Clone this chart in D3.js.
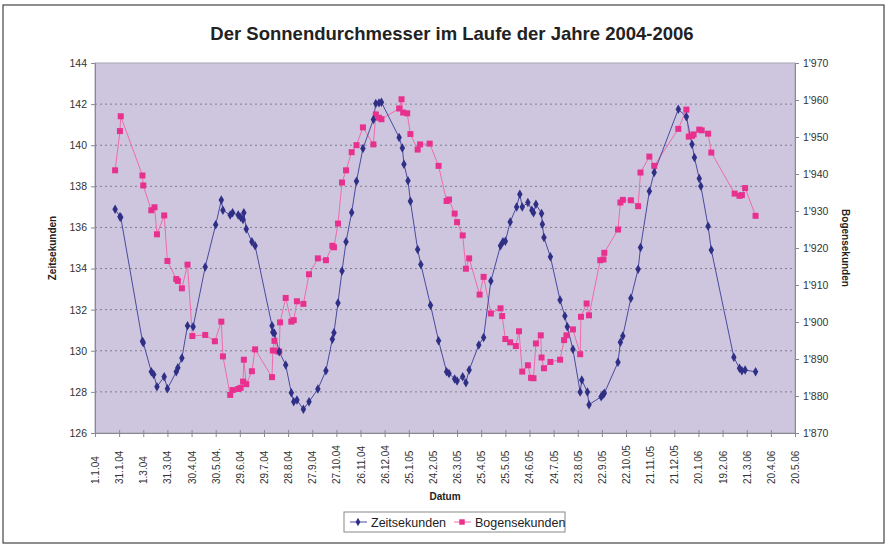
<!DOCTYPE html>
<html>
<head>
<meta charset="utf-8">
<script src="https://cdn.jsdelivr.net/npm/d3@7"></script>
<style>
  body { margin: 0; background: #fff; }
  svg { font-family: "Liberation Sans", Arial, sans-serif; }
</style>
</head>
<body>
<div id="plot"></div>
<script>
// Zeitsekunden (left axis), observation dates and values
const zeitDates = [
  "2004-01-26","2004-02-01","2004-02-02","2004-02-29","2004-03-01","2004-03-11","2004-03-14","2004-03-18","2004-03-27","2004-03-31",
  "2004-04-11","2004-04-13","2004-04-18","2004-04-25","2004-05-02","2004-05-17","2004-05-30","2004-06-06","2004-06-08","2004-06-17",
  "2004-06-20","2004-06-27","2004-06-30","2004-07-03","2004-07-04","2004-07-07","2004-07-14","2004-07-18","2004-08-08","2004-08-09",
  "2004-08-11","2004-08-17","2004-08-25","2004-09-01","2004-09-04","2004-09-08","2004-09-16","2004-09-23","2004-10-04","2004-10-14",
  "2004-10-22","2004-10-24","2004-10-29","2004-11-03","2004-11-08","2004-11-15","2004-11-21","2004-11-29","2004-12-12","2004-12-15",
  "2004-12-19","2004-12-22","2005-01-13","2005-01-17","2005-01-19","2005-01-24","2005-01-27","2005-02-05","2005-02-09","2005-02-21",
  "2005-03-03","2005-03-13","2005-03-16","2005-03-23","2005-03-26","2005-04-02","2005-04-06","2005-04-10","2005-04-22","2005-04-28",
  "2005-05-07","2005-05-19","2005-05-22","2005-05-25","2005-05-31","2005-06-08","2005-06-12","2005-06-15","2005-06-22","2005-06-27",
  "2005-06-29","2005-07-02","2005-07-09","2005-07-10","2005-07-12","2005-07-20","2005-08-01","2005-08-07","2005-08-10","2005-08-17",
  "2005-08-26","2005-08-28","2005-09-04","2005-09-06","2005-09-21","2005-09-23","2005-09-25","2005-10-12","2005-10-15","2005-10-18",
  "2005-10-28","2005-11-06","2005-11-09","2005-11-20","2005-11-26","2005-12-26","2006-01-05","2006-01-12","2006-01-15","2006-01-21",
  "2006-01-23","2006-02-01","2006-02-05","2006-03-05","2006-03-12","2006-03-15","2006-03-19","2006-04-01"
];
const zeitValues = [
  136.89,136.52,136.50,130.46,130.39,128.98,128.85,128.25,128.74,128.15,
  128.98,129.17,129.65,131.22,131.17,134.08,136.13,137.33,136.84,136.60,
  136.71,136.60,136.49,136.39,136.71,135.92,135.30,135.11,131.22,130.90,
  130.85,129.95,129.31,127.96,127.52,127.60,127.15,127.52,128.14,129.03,
  130.56,130.88,132.33,133.88,135.30,136.73,138.25,139.84,141.25,142.03,
  142.06,142.09,140.38,139.87,139.08,138.27,137.28,134.93,134.20,132.22,
  130.49,128.98,128.90,128.63,128.53,128.74,128.45,129.06,130.28,130.65,
  133.39,135.11,135.30,135.33,136.27,137.00,137.62,136.99,137.21,136.84,
  136.72,137.13,136.68,136.15,135.51,134.57,132.47,131.69,131.17,130.07,
  127.99,128.58,127.99,127.38,127.76,127.85,127.93,129.44,130.41,130.72,
  132.55,133.97,135.02,137.76,138.67,141.75,141.38,140.05,139.40,138.38,
  138.01,136.06,134.90,129.68,129.15,129.03,129.06,128.98
];

// Bogensekunden (right axis)
const bogenDates = [
  "2004-01-26","2004-02-01","2004-02-02","2004-02-29","2004-03-01","2004-03-11","2004-03-15","2004-03-18","2004-03-27","2004-03-31",
  "2004-04-11","2004-04-13","2004-04-18","2004-04-25","2004-05-01","2004-05-17","2004-05-29","2004-06-06","2004-06-08","2004-06-17",
  "2004-06-20","2004-06-27","2004-06-30","2004-07-03","2004-07-04","2004-07-07","2004-07-14","2004-07-18","2004-08-08","2004-08-09",
  "2004-08-11","2004-08-15","2004-08-17","2004-08-18","2004-08-25","2004-09-01","2004-09-04","2004-09-08","2004-09-16","2004-09-23",
  "2004-10-04","2004-10-14","2004-10-22","2004-10-24","2004-10-29","2004-11-03","2004-11-08","2004-11-15","2004-11-21","2004-11-29",
  "2004-12-12","2004-12-15","2004-12-19","2004-12-22","2005-01-13","2005-01-16","2005-01-18","2005-01-23","2005-01-27","2005-02-05",
  "2005-02-08","2005-02-20","2005-03-03","2005-03-13","2005-03-16","2005-03-23","2005-03-26","2005-04-02","2005-04-06","2005-04-10",
  "2005-04-23","2005-04-28","2005-05-07","2005-05-19","2005-05-21","2005-05-25","2005-05-31","2005-06-07","2005-06-11","2005-06-15",
  "2005-06-22","2005-06-26","2005-06-29","2005-07-02","2005-07-08","2005-07-09","2005-07-12","2005-07-20","2005-08-01","2005-08-06",
  "2005-08-09","2005-08-17","2005-08-26","2005-08-27","2005-09-03","2005-09-06","2005-09-20","2005-09-24","2005-09-25","2005-10-12",
  "2005-10-15","2005-10-18","2005-10-28","2005-11-06","2005-11-09","2005-11-20","2005-11-26","2005-12-26","2006-01-05","2006-01-08",
  "2006-01-12","2006-01-14","2006-01-21","2006-01-24","2006-02-01","2006-02-05","2006-03-06","2006-03-12","2006-03-15","2006-03-19",
  "2006-04-01"
];
const bogenValues = [
  1941.0,1951.6,1955.6,1939.6,1936.9,1930.2,1931.0,1923.7,1928.8,1916.5,
  1911.6,1911.1,1909.1,1915.5,1896.2,1896.5,1894.8,1900.1,1890.7,1880.3,
  1881.6,1881.9,1882.2,1883.9,1889.8,1883.2,1886.7,1892.6,1885.1,1892.3,
  1894.9,1892.1,1892.0,1899.9,1906.5,1900.1,1900.5,1905.6,1904.9,1912.9,
  1917.2,1916.7,1920.6,1920.2,1926.6,1937.7,1941.0,1945.9,1947.8,1952.6,
  1948.0,1956.1,1955.2,1954.8,1957.7,1960.2,1956.6,1956.4,1950.8,1946.6,
  1948.0,1948.2,1942.2,1932.7,1933.1,1929.3,1927.0,1923.4,1914.4,1917.2,
  1907.4,1912.2,1902.3,1903.7,1901.6,1895.4,1894.5,1893.5,1897.5,1886.6,
  1888.3,1884.9,1884.8,1894.2,1896.4,1890.4,1887.5,1889.2,1889.8,1895.1,
  1896.4,1898.0,1891.3,1901.4,1905.0,1901.8,1916.7,1916.9,1918.7,1925.0,
  1932.3,1933.0,1932.9,1931.3,1940.4,1944.7,1942.2,1952.2,1957.4,1950.1,
  1950.3,1950.7,1952.0,1951.8,1950.9,1945.8,1934.7,1934.1,1934.3,1936.2,
  1928.7
];

const xTickLabels = ["1.1.04","31.1.04","1.3.04","31.3.04","30.4.04","30.5.04.","29.6.04","29.7.04","28.8.04","27.9.04",
  "27.10.04","26.11.04","26.12.04","25.1.05","24.2.05","26.3.05","25.4.05","25.5.05","24.6.05","24.7.05",
  "23.8.05","22.9.05","22.10.05","21.11.05","21.12.05","20.1.06","19.2.06","21.3.06","20.4.06","20.5.06"];
const leftTicks = [126,128,130,132,134,136,138,140,142,144];
const rightTicks = [1870,1880,1890,1900,1910,1920,1930,1940,1950,1960,1970];

const width = 888, height = 544;
const plot = { left: 95, right: 795, top: 63, bottom: 433 };

const parse = d3.utcParse("%Y-%m-%d");
const start = parse("2004-01-01");
const xTickDates = xTickLabels.map((_, i) => d3.utcDay.offset(start, i * 30));

const svg = d3.select("#plot").append("svg")
  .attr("width", width).attr("height", height);

// outer frame
svg.append("rect").attr("x", 3).attr("y", 5).attr("width", 881).attr("height", 538)
  .attr("fill", "#fff").attr("stroke", "#444").attr("stroke-width", 1.2);

const x = d3.scaleUtc()
  .domain([start, xTickDates[xTickDates.length - 1]])
  .range([plot.left, plot.right]);
const yL = d3.scaleLinear().domain([126, 144]).range([plot.bottom, plot.top]);
const yR = d3.scaleLinear().domain([1870, 1970]).range([plot.bottom, plot.top]);

const swiss = d3.formatLocale({ decimal: ".", thousands: "'", grouping: [3], currency: ["", ""] });
const fmtR = swiss.format(",");

// plot background
svg.append("rect")
  .attr("x", plot.left).attr("y", plot.top)
  .attr("width", plot.right - plot.left).attr("height", plot.bottom - plot.top)
  .attr("fill", "#cdc6de").attr("stroke", "#a8a4b4");

// gridlines
svg.append("g").selectAll("line")
  .data(leftTicks.slice(1, -1))
  .join("line")
  .attr("x1", plot.left).attr("x2", plot.right)
  .attr("y1", d => yL(d)).attr("y2", d => yL(d))
  .attr("stroke", "#6e6a7a").attr("stroke-width", 0.8)
  .attr("stroke-dasharray", "2,3");

// axes
const axL = svg.append("g").attr("transform", `translate(${plot.left},0)`)
  .call(d3.axisLeft(yL).tickValues(leftTicks).tickSize(4).tickPadding(4));
const axR = svg.append("g").attr("transform", `translate(${plot.right},0)`)
  .call(d3.axisRight(yR).tickValues(rightTicks).tickFormat(fmtR).tickSize(4).tickPadding(4));
const axB = svg.append("g").attr("transform", `translate(0,${plot.bottom})`)
  .call(d3.axisBottom(x).tickValues(xTickDates).tickFormat((d, i) => xTickLabels[i]).tickSize(4));

[axL, axR, axB].forEach(g => {
  g.select(".domain").attr("stroke", "#8a8894");
  g.selectAll(".tick line").attr("stroke", "#8a8894");
  g.selectAll("text").attr("fill", "#333").attr("font-size", 10.5)
    .attr("font-family", "'Liberation Sans', Arial, sans-serif");
});
axB.selectAll(".tick line").attr("y1", -3);
axB.selectAll("text")
  .attr("transform", "rotate(-90)")
  .attr("text-anchor", "start")
  .attr("x", -51).attr("y", 0).attr("dy", "0.35em")
  .attr("font-size", 10);

// lines and markers
const zeit = zeitDates.map((d, i) => ({ date: parse(d), value: zeitValues[i] }));
const bogen = bogenDates.map((d, i) => ({ date: parse(d), value: bogenValues[i] }));

svg.append("path").datum(bogen)
  .attr("fill", "none").attr("stroke", "#f06aae").attr("stroke-width", 1)
  .attr("d", d3.line().x(d => x(d.date)).y(d => yR(d.value)));
svg.append("path").datum(zeit)
  .attr("fill", "none").attr("stroke", "#4a4a9e").attr("stroke-width", 1)
  .attr("d", d3.line().x(d => x(d.date)).y(d => yL(d.value)));

svg.append("g").selectAll("path")
  .data(bogen).join("path")
  .attr("transform", d => `translate(${x(d.date)},${yR(d.value)})`)
  .attr("d", d3.symbol(d3.symbolSquare, 36))
  .attr("fill", "#e8318f");
svg.append("g").selectAll("path")
  .data(zeit).join("path")
  .attr("transform", d => `translate(${x(d.date)},${yL(d.value)})`)
  .attr("d", d3.symbol(d3.symbolDiamond, 26))
  .attr("fill", "#2f2f86");

// titles
svg.append("text").attr("x", 452).attr("y", 40).attr("text-anchor", "middle")
  .attr("font-size", 18.5).attr("font-weight", "bold").attr("fill", "#222")
  .text("Der Sonnendurchmesser im Laufe der Jahre 2004-2006");
svg.append("text").attr("transform", "translate(56,248) rotate(-90)")
  .attr("text-anchor", "middle").attr("font-size", 10).attr("font-weight", "bold").attr("fill", "#222")
  .text("Zeitsekunden");
svg.append("text").attr("transform", "translate(842,248) rotate(90)")
  .attr("text-anchor", "middle").attr("font-size", 10).attr("font-weight", "bold").attr("fill", "#222")
  .text("Bogensekunden");
svg.append("text").attr("x", 445).attr("y", 500).attr("text-anchor", "middle")
  .attr("font-size", 10).attr("font-weight", "bold").attr("fill", "#222")
  .text("Datum");

// legend
const lg = svg.append("g");
lg.append("rect").attr("x", 344).attr("y", 512).attr("width", 221).attr("height", 20)
  .attr("fill", "#fff").attr("stroke", "#888");
lg.append("line").attr("x1", 350).attr("x2", 367).attr("y1", 522).attr("y2", 522)
  .attr("stroke", "#4a4a9e");
lg.append("path").attr("transform", "translate(358,522)")
  .attr("d", d3.symbol(d3.symbolDiamond, 20)).attr("fill", "#2f2f86");
lg.append("text").attr("x", 371).attr("y", 526.5).attr("font-size", 12.5).attr("fill", "#222")
  .text("Zeitsekunden");
lg.append("line").attr("x1", 454).attr("x2", 471).attr("y1", 522).attr("y2", 522)
  .attr("stroke", "#f06aae");
lg.append("path").attr("transform", "translate(462,522)")
  .attr("d", d3.symbol(d3.symbolSquare, 30)).attr("fill", "#e8318f");
lg.append("text").attr("x", 475).attr("y", 526.5).attr("font-size", 12.5).attr("fill", "#222")
  .text("Bogensekunden");
</script>
</body>
</html>
